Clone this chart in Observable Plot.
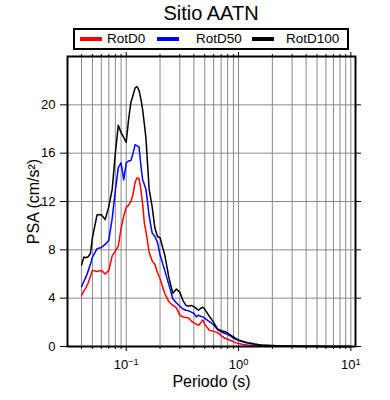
<!DOCTYPE html>
<html>
<head>
<meta charset="utf-8">
<script src="https://cdn.jsdelivr.net/npm/d3@7"></script>
<script src="https://cdn.jsdelivr.net/npm/@observablehq/plot@0.6"></script>
<style>
  body { margin: 0; background: #fff; font-family: "Liberation Sans", Arial, Helvetica, sans-serif; }
  #wrap { position: relative; width: 390px; height: 400px; overflow: hidden; }
  #header { position: relative; width: 390px; height: 50px; }
  #title { position: absolute; left: 0; top: 1px; width: 422px; text-align: center; font-size: 20px; line-height: 24px; color: #000; }
  #legend { position: absolute; left: 73px; top: 28px; width: 276px; height: 22px; box-sizing: border-box; border: 2px solid #000; background: #fff; }
  .item { position: absolute; top: 0; height: 18px; font-size: 13.5px; line-height: 18px; white-space: nowrap; }
  .swatch { position: absolute; top: 7px; width: 22px; height: 4px; }
  svg [aria-label="x-axis label"], svg [aria-label="y-axis label"] { font-size: 16px; }
</style>
</head>
<body>
<div id="wrap">
  <div id="header">
    <div id="title">Sitio AATN</div>
    <div id="legend"></div>
  </div>
  <div id="chart"></div>
</div>
<script>
// ---- data ----
const periods = [0.04, 0.042, 0.044, 0.046, 0.048, 0.05, 0.055, 0.06, 0.065, 0.07, 0.075, 0.08, 0.085, 0.09, 0.095,
  0.1, 0.105, 0.11, 0.115, 0.12, 0.125, 0.13, 0.135, 0.14, 0.145, 0.15, 0.16, 0.17, 0.18, 0.19,
  0.2, 0.22, 0.24, 0.26, 0.28, 0.3, 0.32, 0.34, 0.36, 0.38, 0.4, 0.42, 0.44, 0.46, 0.48,
  0.5, 0.55, 0.6, 0.65, 0.7, 0.75, 0.8, 0.85, 0.9, 0.95,
  1.0, 1.1, 1.2, 1.3, 1.4, 1.5, 1.6, 1.8, 2.0, 2.5, 3.0, 4.0, 5.0, 6.0, 7.0, 8.0, 10.0];

const rotD0 = [4.2, 4.6, 4.9, 5.3, 5.8, 6.3, 6.2, 6.3, 6.0, 6.3, 7.5, 7.9, 8.3, 9.8, 10.8,
  11.5, 11.7, 12.0, 12.6, 13.6, 13.95, 13.9, 13.0, 11.8, 10.2, 9.5, 7.8, 7.1, 6.8, 6.1,
  5.6, 4.4, 3.7, 3.4, 3.2, 2.6, 2.45, 2.4, 2.35, 2.1, 1.95, 1.85, 1.75, 1.95, 2.2,
  1.85, 1.35, 1.25, 1.15, 0.9, 0.7, 0.6, 0.5, 0.4, 0.3,
  0.24, 0.17, 0.12, 0.09, 0.07, 0.06, 0.05, 0.04, 0.03, 0.02, 0.015, 0.01, 0.007, 0.005, 0.004, 0.003, 0.002];

const rotD50 = [4.95, 5.4, 5.8, 6.3, 6.8, 7.4, 8.1, 8.2, 8.45, 8.8, 10.6, 12.9, 14.8, 15.2, 13.8,
  15.2, 15.35, 15.4, 16.0, 16.7, 16.6, 16.5, 15.0, 13.8, 13.4, 13.0, 10.8, 9.4, 9.1, 8.6,
  7.6, 6.3, 5.1, 3.95, 3.6, 3.35, 3.1, 3.0, 2.95, 2.85, 2.75, 2.45, 2.6, 2.5, 2.45,
  2.35, 2.05, 1.8, 1.4, 1.2, 1.1, 1.0, 0.85, 0.7, 0.6,
  0.5, 0.38, 0.28, 0.22, 0.17, 0.14, 0.11, 0.08, 0.065, 0.04, 0.03, 0.018, 0.012, 0.009, 0.007, 0.005, 0.003];

const rotD100 = [6.75, 7.4, 7.35, 7.45, 7.7, 9.0, 10.9, 10.9, 10.5, 11.6, 13.0, 16.0, 18.3, 17.7, 17.3,
  16.9, 18.8, 20.2, 20.8, 21.4, 21.5, 21.2, 20.5, 19.6, 18.4, 17.2, 13.0, 11.6, 9.8, 9.1,
  9.0, 7.6, 5.7, 4.4, 4.75, 4.5, 3.8, 3.4, 3.35, 3.4, 3.3, 3.15, 3.0, 3.15, 3.25,
  3.1, 2.5, 2.0, 1.45, 1.3, 1.25, 1.1, 0.95, 0.8, 0.65,
  0.55, 0.42, 0.32, 0.26, 0.2, 0.16, 0.13, 0.1, 0.08, 0.05, 0.035, 0.02, 0.014, 0.01, 0.008, 0.006, 0.004];

const seriesNames = ["RotD0", "RotD50", "RotD100"];
const seriesColors = ["#ff0000", "#0000ff", "#000000"];
const seriesValues = [rotD0, rotD50, rotD100];

const xMajorTicks = [0.1, 1, 10];
const xMinorTicks = [0.04, 0.05, 0.06, 0.07, 0.08, 0.09, 0.2, 0.3, 0.4, 0.5, 0.6, 0.7, 0.8, 0.9, 2, 3, 4, 5, 6, 7, 8, 9];
const yTicks = [0, 4, 8, 12, 16, 20];
const yGrid = [4, 8, 12, 16, 20];
const xTickBase = ["10", "10", "10"];
const xTickExp = ["\u22121", "0", "1"];

// ---- legend ----
const legend = document.getElementById("legend");
const legendPos = [[5, 32], [82, 121], [177, 211]];
seriesNames.forEach((n, i) => {
  const sw = document.createElement("div");
  sw.className = "swatch";
  sw.style.left = legendPos[i][0] + "px";
  sw.style.background = seriesColors[i];
  legend.appendChild(sw);
  const t = document.createElement("div");
  t.className = "item";
  t.style.left = legendPos[i][1] + "px";
  t.textContent = n;
  legend.appendChild(t);
});

// ---- chart ----
const rows = seriesNames.map((n, i) => periods.map((p, j) => ({T: p, v: seriesValues[i][j], name: n})));
const majorLabel = d => {
  const k = xMajorTicks.indexOf(d);
  return k < 0 ? "" : xTickBase[k] + "|" + xTickExp[k];
};

const chart = Plot.plot({
  width: 390,
  height: 350,
  marginLeft: 67,
  marginRight: 35,
  marginTop: 6,
  marginBottom: 54,
  x: {type: "log", domain: [0.03, 11]},
  y: {domain: [0, 24]},
  style: {fontFamily: "'Liberation Sans', Arial, Helvetica, sans-serif", fontSize: "13px", color: "#000", background: "#fff", overflow: "visible"},
  marks: [
    Plot.gridX(xMinorTicks.concat(xMajorTicks), {stroke: "#8a8a8a", strokeOpacity: 1, strokeWidth: 1}),
    Plot.gridY(yGrid, {stroke: "#8a8a8a", strokeOpacity: 1, strokeWidth: 1}),
    ...rows.map((r, i) => Plot.lineY(r, {x: "T", y: "v", stroke: seriesColors[i], strokeWidth: 1.5})),
    Plot.axisX(xMajorTicks, {anchor: "bottom", tickSize: 5, tickPadding: 8, tickFormat: majorLabel,
      label: "Periodo (s)", labelAnchor: "center", labelArrow: "none", labelOffset: 40}),
    Plot.axisX(xMinorTicks, {anchor: "bottom", tickSize: 3, fill: "none", label: null}),
    Plot.axisX(xMajorTicks, {anchor: "top", tickSize: 5, fill: "none", label: null}),
    Plot.axisX(xMinorTicks, {anchor: "top", tickSize: 3, fill: "none", label: null}),
    Plot.axisY(yTicks, {anchor: "left", tickSize: 7, tickPadding: 5,
      label: "PSA (cm/s\u00b2)", labelAnchor: "center", labelArrow: "none", labelOffset: 40}),
    Plot.axisY(yTicks, {anchor: "right", tickSize: 5, fill: "none", label: null}),
    Plot.frame({stroke: "#000", strokeWidth: 2})
  ]
});
document.getElementById("chart").appendChild(chart);

// superscript exponents on the log tick labels
d3.select(chart).selectAll('g[aria-label="x-axis tick label"] text').each(function() {
  const s = this.textContent;
  if (!s || s.indexOf("|") < 0) return;
  const [base, exp] = s.split("|");
  const el = d3.select(this);
  el.text(null);
  el.append("tspan").text(base);
  el.append("tspan").attr("dy", "-0.45em").attr("font-size", "0.72em").text(exp);
});
</script>
</body>
</html>
